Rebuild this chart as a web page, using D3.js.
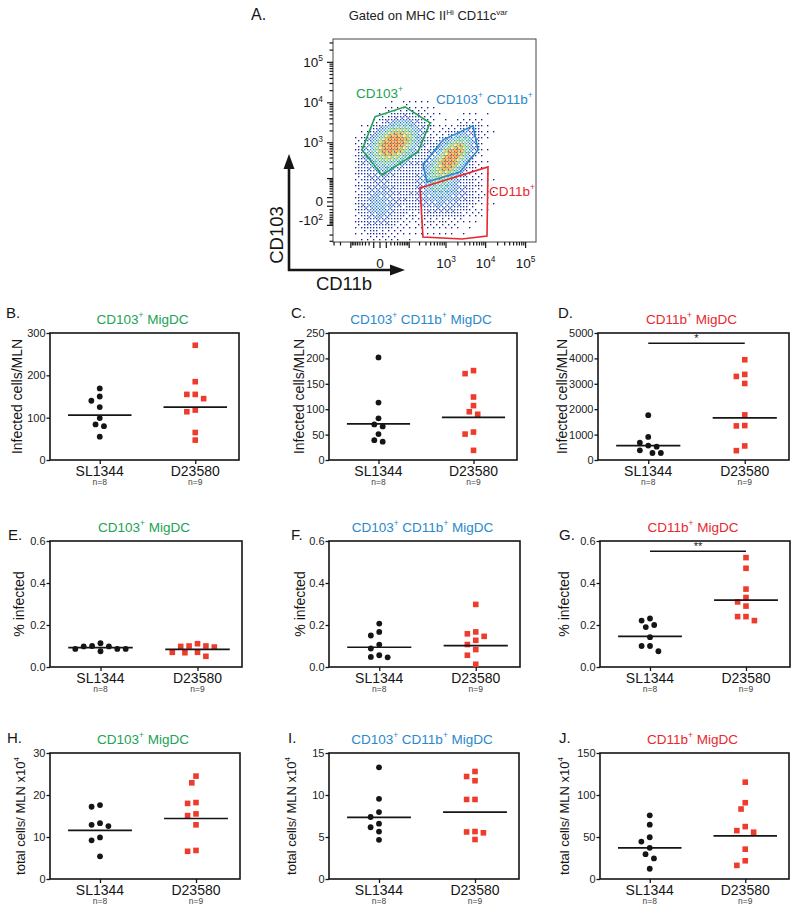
<!DOCTYPE html>
<html><head><meta charset="utf-8">
<script src="https://cdn.jsdelivr.net/npm/d3@7"></script>
<style>body{margin:0;background:#fff}</style>
</head><body><svg id="c" width="800" height="913"></svg>
<script>
// ================= DATA =================
const categories = ["SL1344", "D23580"];
const groupSizes = ["n=8", "n=9"];

const B_SL1344 = [169, 150, 140, 125, 99, 84, 80, 55];
const B_D23580 = [271, 185, 155, 155, 145, 118, 114, 65, 47];
const C_SL1344 = [202, 113, 82, 70, 66, 51, 39, 36];
const C_D23580 = [176, 170, 124, 107, 95, 90, 55, 51, 19];
const D_SL1344 = [1763, 908, 684, 566, 526, 382, 276, 276];
const D_D23580 = [3947, 3370, 3290, 3013, 1776, 1355, 1342, 553, 368];
const E_SL1344 = [0.113, 0.100, 0.098, 0.098, 0.086, 0.086, 0.086, 0.075];
const E_D23580 = [0.111, 0.100, 0.100, 0.098, 0.095, 0.070, 0.070, 0.068, 0.051];
const F_SL1344 = [0.207, 0.167, 0.150, 0.107, 0.088, 0.056, 0.048, 0.046];
const F_D23580 = [0.298, 0.167, 0.158, 0.146, 0.127, 0.107, 0.083, 0.056, 0.013];
const G_SL1344 = [0.231, 0.221, 0.200, 0.190, 0.142, 0.100, 0.100, 0.075];
const G_D23580 = [0.521, 0.470, 0.371, 0.331, 0.310, 0.290, 0.240, 0.240, 0.221];
const H_SL1344 = [17.6, 17.2, 13.3, 12.9, 12.6, 9.9, 9.2, 5.4];
const H_D23580 = [24.5, 22.9, 18.2, 18.0, 15.5, 15.1, 12.9, 6.8, 6.6];
const I_SL1344 = [13.3, 9.55, 7.97, 7.38, 6.59, 6.16, 5.65, 4.66];
const I_D23580 = [12.8, 12.2, 11.7, 9.47, 9.47, 5.65, 5.6, 5.5, 4.7];
const J_SL1344 = [75.8, 64.7, 49.7, 44.6, 37.1, 29.6, 24.5, 12.2];
const J_D23580 = [115.3, 90.8, 83.3, 62.4, 57.6, 55.7, 35.5, 21.7, 16.2];

// horizontal line (central value) per group, as drawn
const B_lines = [106, 125];
const C_lines = [71, 84];
const D_lines = [566, 1658];
const E_lines = [0.092, 0.084];
const F_lines = [0.094, 0.102];
const G_lines = [0.146, 0.318];
const H_lines = [11.6, 14.4];
const I_lines = [7.34, 7.97];
const J_lines = [37.1, 51.3];

const B_ticks = [0, 100, 200, 300];
const C_ticks = [0, 50, 100, 150, 200, 250];
const D_ticks = [0, 1000, 2000, 3000, 4000, 5000];
const pct_ticks = [0, 0.2, 0.4, 0.6];
const H_ticks = [0, 10, 20, 30];
const I_ticks = [0, 5, 10, 15];
const J_ticks = [0, 50, 100, 150];

const D_sig = {value: 4600, label: "*"};
const G_sig = {value: 0.551, label: "**"};

const titleGreen = [["CD103", 0], ["+", 1], [" MigDC", 0]];
const titleBlue = [["CD103", 0], ["+", 1], [" CD11b", 0], ["+", 1], [" MigDC", 0]];
const titleRed = [["CD11b", 0], ["+", 1], [" MigDC", 0]];
const yLabelInfected = [["Infected cells/MLN", 0]];
const yLabelPct = [["% infected", 0]];
const yLabelTotal = [["total cells/ MLN x10", 0], ["4", 1]];

// Flow cytometry panel (A)
const flowTitle = [["Gated on MHC II", 0], ["Hi", 1], [" CD11c", 0], ["var", 1]];
const flowXLabels = [{v: 0, t: [["0", 0]]}, {v: 1e3, t: [["10", 0], ["3", 1]]}, {v: 1e4, t: [["10", 0], ["4", 1]]}, {v: 1e5, t: [["10", 0], ["5", 1]]}];
const flowYLabels = [{v: 1e5, t: [["10", 0], ["5", 1]]}, {v: 1e4, t: [["10", 0], ["4", 1]]}, {v: 1e3, t: [["10", 0], ["3", 1]]}, {v: 0, t: [["0", 0]]}, {v: -100, t: [["-10", 0], ["2", 1]]}];
// populations: centre (CD11b, CD103), spread (decades), tilt (deg), relative weight
const flowClusters = [
  {cd11b: 25, cd103: 990, su: 0.52, sv: 0.34, angle: 38, weight: 1.0},
  {cd11b: 1420, cd103: 485, su: 0.5, sv: 0.25, angle: 50, weight: 0.95},
  {cd11b: -3, cd103: -7, su: 0.36, sv: 0.5, angle: 0, weight: 0.42},
  {cd11b: 940, cd103: 18, su: 0.55, sv: 0.42, angle: 10, weight: 0.36},
  {cd11b: 200, cd103: 90, su: 0.7, sv: 0.65, angle: 0, weight: 0.13}
];
// gates (CD11b, CD103)
const gateCD103 = [[-7.6, 4486], [74, 7945], [384, 3179], [181, 582], [2.8, 131], [-41.6, 656]];
const gateDouble = [[249, 259], [838, 1187], [4816, 2675], [6430, 656], [2267, 162], [320, 76]];
const gateCD11b = [[206, 44], [11454, 227], [10813, -213], [2546, -259], [249, -227]];

// ================= RENDER =================
const FONT = '"Liberation Sans", Arial, Helvetica, sans-serif';
const GREEN = "#21a254", BLUE = "#2a88cc", RED = "#e8272e", SQ = "#ef3b2c", INK = "#151515";
const svg = d3.select("#c").attr("font-family", FONT);
svg.append("rect").attr("width", 800).attr("height", 913).attr("fill", "#fff");

function rich(textSel, segs, size) {
  let shifted = false;
  segs.forEach(([t, sup]) => {
    const ts = textSel.append("tspan").text(t);
    if (sup) {
      ts.attr("font-size", size * 0.62);
      if (!shifted) { ts.attr("dy", -size * 0.42); shifted = true; }
    } else {
      ts.attr("font-size", size);
      if (shifted) { ts.attr("dy", size * 0.42); shifted = false; }
    }
  });
  return textSel;
}

function dodge(values, yScale, cx, minDist, step) {
  const pts = values.map(v => ({v, py: yScale(v)})).sort((a, b) => a.py - b.py);
  const placed = [];
  for (const p of pts) {
    for (let k = 0; k < 60; k++) {
      const off = (k % 2 === 1 ? -1 : 1) * Math.ceil(k / 2) * step;
      if (placed.every(q => Math.hypot(q.px - (cx + off), q.py - p.py) >= minDist)) { p.px = cx + off; break; }
    }
    placed.push(p);
  }
  return placed;
}

function dotPanel(cfg) {
  const [x0, y0, x1, y1] = cfg.box;
  const w = x1 - x0;
  const g = svg.append("g");
  const y = d3.scaleLinear().domain([0, cfg.ticks[cfg.ticks.length - 1]]).range([y1, y0]);
  const x = d3.scalePoint().domain(categories).range([x0 + 2, x1 + 4]).padding(0.5);

  // letter + title
  g.append("text").attr("x", cfg.letter[0]).attr("y", cfg.letter[1]).attr("font-size", 15).attr("fill", INK).text(cfg.id + ".");
  rich(g.append("text").attr("x", (x0 + x1) / 2 - 2).attr("y", y0 - 9).attr("text-anchor", "middle").attr("fill", cfg.color), cfg.title, 13.5);

  // y axis
  const ya = g.append("g").attr("transform", `translate(${x0},0)`)
    .call(d3.axisLeft(y).tickValues(cfg.ticks).tickSize(3.5).tickPadding(1).tickFormat(cfg.fmt || d3.format("d")));
  ya.select(".domain").remove();
  ya.selectAll("line").attr("stroke", INK).attr("stroke-width", 1.3);
  ya.selectAll("text").attr("font-size", 11).attr("font-family", FONT).attr("fill", "#222");

  // x axis
  const xa = g.append("g").attr("transform", `translate(0,${y1})`)
    .call(d3.axisBottom(x).tickSize(4).tickFormat(""));
  xa.select(".domain").remove();
  xa.selectAll("line").attr("stroke", INK).attr("stroke-width", 1.3);
  categories.forEach((c, i) => {
    g.append("text").attr("x", x(c)).attr("y", y1 + 15.5).attr("text-anchor", "middle").attr("font-size", 14).attr("fill", INK).text(c);
    g.append("text").attr("x", x(c)).attr("y", y1 + 25).attr("text-anchor", "middle").attr("font-size", 8.5).attr("fill", "#444").text(groupSizes[i]);
  });

  // y label
  const ly = (y0 + y1) / 2;
  const lsize = cfg.lsize || 14;
  rich(g.append("text").attr("transform", `translate(${cfg.ylab + lsize * 0.3},${ly}) rotate(-90)`).attr("text-anchor", "middle").attr("fill", INK), cfg.ylabel, lsize);

  // frame
  g.append("rect").attr("x", x0).attr("y", y0).attr("width", w).attr("height", y1 - y0)
    .attr("fill", "none").attr("stroke", INK).attr("stroke-width", 1.6);

  // points
  const sl = dodge(cfg.sl, y, x(categories[0]), 7.4, 4.2);
  g.selectAll(null).data(sl).join("circle").attr("cx", d => d.px).attr("cy", d => d.py).attr("r", 2.9).attr("fill", INK);
  const dd = dodge(cfg.d, y, x(categories[1]), 7.4, 4.2);
  const s = 5.6;
  g.selectAll(null).data(dd).join("rect").attr("x", d => d.px - s / 2).attr("y", d => d.py - s / 2).attr("width", s).attr("height", s).attr("fill", SQ);

  // central lines
  const hw = w * 0.168;
  cfg.lines.forEach((v, i) => {
    g.append("line").attr("x1", x(categories[i]) - hw).attr("x2", x(categories[i]) + hw)
      .attr("y1", y(v)).attr("y2", y(v)).attr("stroke", INK).attr("stroke-width", 1.7);
  });

  // significance
  if (cfg.sig) {
    g.append("line").attr("x1", x(categories[0])).attr("x2", x(categories[1]))
      .attr("y1", y(cfg.sig.value)).attr("y2", y(cfg.sig.value)).attr("stroke", INK).attr("stroke-width", 1.5);
    g.append("text").attr("x", (x(categories[0]) + x(categories[1])) / 2).attr("y", y(cfg.sig.value) - 1)
      .attr("text-anchor", "middle").attr("font-size", 11).attr("fill", INK).text(cfg.sig.label);
  }
}

const pfmt = d3.format(".1f");
dotPanel({id: "B", box: [50, 333, 239, 460], letter: [6, 318], ylab: 18, title: titleGreen, color: GREEN, ylabel: yLabelInfected, ticks: B_ticks, sl: B_SL1344, d: B_D23580, lines: B_lines});
dotPanel({id: "C", box: [329, 333, 517, 460], letter: [291, 318], ylab: 299.5, title: titleBlue, color: BLUE, ylabel: yLabelInfected, ticks: C_ticks, sl: C_SL1344, d: C_D23580, lines: C_lines});
dotPanel({id: "D", box: [598, 333, 789, 460], letter: [558, 318], ylab: 563, title: titleRed, color: RED, ylabel: yLabelInfected, ticks: D_ticks, sl: D_SL1344, d: D_D23580, lines: D_lines, sig: D_sig});
dotPanel({id: "E", box: [50, 541, 242, 667], letter: [8, 540], ylab: 20, title: titleGreen, color: GREEN, ylabel: yLabelPct, ticks: pct_ticks, fmt: pfmt, sl: E_SL1344, d: E_D23580, lines: E_lines});
dotPanel({id: "F", box: [329, 541, 520, 667], letter: [291, 540], ylab: 301, title: titleBlue, color: BLUE, ylabel: yLabelPct, ticks: pct_ticks, fmt: pfmt, sl: F_SL1344, d: F_D23580, lines: F_lines});
dotPanel({id: "G", box: [600, 541, 790, 667], letter: [559, 540], ylab: 565, title: titleRed, color: RED, ylabel: yLabelPct, ticks: pct_ticks, fmt: pfmt, sl: G_SL1344, d: G_D23580, lines: G_lines, sig: G_sig});
dotPanel({id: "H", box: [50, 753, 240, 879], letter: [7, 743], ylab: 21, lsize: 13, title: titleGreen, color: GREEN, ylabel: yLabelTotal, ticks: H_ticks, sl: H_SL1344, d: H_D23580, lines: H_lines});
dotPanel({id: "I", box: [329, 753, 519, 879], letter: [288, 743], ylab: 292, lsize: 13, title: titleBlue, color: BLUE, ylabel: yLabelTotal, ticks: I_ticks, sl: I_SL1344, d: I_D23580, lines: I_lines});
dotPanel({id: "J", box: [600, 753, 789, 879], letter: [559, 743], ylab: 565, lsize: 13, title: titleRed, color: RED, ylabel: yLabelTotal, ticks: J_ticks, sl: J_SL1344, d: J_D23580, lines: J_lines});

// ---------- Panel A : flow plot ----------
(function flow() {
  const g = svg.append("g");
  const fx = d3.scaleSymlog().constant(22.9).domain([-320, 182000]).range([333, 536]);
  const fy = d3.scaleSymlog().constant(36).domain([-314, 376000]).range([242, 39]);
  const [bx0, bx1] = fx.range(), [by1, by0] = fy.range();

  g.append("text").attr("x", 251).attr("y", 20).attr("font-size", 16).attr("fill", INK).text("A.");
  rich(g.append("text").attr("x", 428).attr("y", 20).attr("text-anchor", "middle").attr("fill", "#222"), flowTitle, 13);

  // density of events (ordered dithering of the population mixture)
  const decX = fx(1e4) - fx(1e3), decY = fy(1e3) - fy(1e4);
  const dec = (decX + decY) / 2;
  const cl = flowClusters.map(c => ({px: fx(c.cd11b), py: fy(c.cd103), su: c.su * dec, sv: c.sv * dec, a: c.angle * Math.PI / 180, w: c.weight}));
  const b4 = [[0, 8, 2, 10], [12, 4, 14, 6], [3, 11, 1, 9], [15, 7, 13, 5]];
  const bayer8 = (r, c) => 4 * b4[r % 4][c % 4] + [[0, 2], [3, 1]][(r >> 2) & 1][(c >> 2) & 1];
  const shade = [[9, 2, 14, 5], [4, 12, 0, 11], [15, 7, 10, 3], [1, 13, 6, 8]];
  const col = d3.scaleLinear().domain([0, 0.18, 0.34, 0.5, 0.66, 0.84, 1])
    .range(["#17188a", "#1f3cb2", "#2f98d6", "#47c890", "#d8e236", "#f59a26", "#e3261c"]).clamp(true);
  const cells = [];
  const stepPx = 1.5;
  let i = 0;
  for (let py = by0 + 62; py < by1 - 0.5; py += stepPx, i++) {
    let j = 0;
    for (let px = bx0 + 22; px < bx0 + 168; px += stepPx, j++) {
      let d = 0;
      for (const c of cl) {
        const dx = px - c.px, dy = py - c.py;
        const u = dx * Math.cos(c.a) - dy * Math.sin(c.a);
        const v = dx * Math.sin(c.a) + dy * Math.cos(c.a);
        d += c.w * Math.exp(-0.5 * (u * u / (c.su * c.su) + v * v / (c.sv * c.sv)));
      }
      if (d < 0.02) continue;
      const p = Math.min(1, d * 1.15);
      if (p > (bayer8(i, j) + 0.5) / 64) {
        const f = 0.5 + 0.75 * (shade[(i + 1) % 4][(j + 2) % 4] / 15);
        cells.push({px, py, t: d * f});
      }
    }
  }
  g.append("g").selectAll("rect").data(cells).join("rect")
    .attr("x", d => d.px).attr("y", d => d.py).attr("width", 1.35).attr("height", 1.35)
    .attr("fill", d => col(d.t));

  // frame
  g.append("rect").attr("x", bx0).attr("y", by0).attr("width", bx1 - bx0).attr("height", by1 - by0)
    .attr("fill", "none").attr("stroke", "#444").attr("stroke-width", 1);

  // ticks
  function tickVals(min, max) {
    const out = [{v: 0, major: true}];
    for (let e = 1; e <= 5; e++) for (let k = 1; k <= 9; k++) {
      const v = k * Math.pow(10, e);
      if (v <= max) out.push({v, major: k === 1});
      if (-v >= min) out.push({v: -v, major: k === 1});
    }
    return out;
  }
  const yt = tickVals(fy.domain()[0], fy.domain()[1]);
  g.append("g").selectAll("line").data(yt).join("line")
    .attr("x1", bx0).attr("x2", d => bx0 - (d.major ? 6 : 3.5))
    .attr("y1", d => fy(d.v)).attr("y2", d => fy(d.v)).attr("stroke", INK).attr("stroke-width", 1.2);
  const xt = tickVals(fx.domain()[0], fx.domain()[1]);
  g.append("g").selectAll("line").data(xt).join("line")
    .attr("y1", by1).attr("y2", d => by1 + (d.major ? 6 : 3.5))
    .attr("x1", d => fx(d.v)).attr("x2", d => fx(d.v)).attr("stroke", INK).attr("stroke-width", 1.2);

  flowYLabels.forEach(l => {
    rich(g.append("text").attr("x", 323).attr("y", fy(l.v) + (l.v < 0 ? 0 : 4.5)).attr("text-anchor", "end").attr("fill", INK), l.t, 13.5);
  });
  flowXLabels.forEach(l => {
    rich(g.append("text").attr("x", fx(l.v)).attr("y", 268).attr("text-anchor", "middle").attr("fill", INK), l.t, 13.5);
  });

  // gates
  const gline = d3.line().x(d => fx(d[0])).y(d => fy(d[1])).curve(d3.curveLinearClosed);
  [[gateCD103, GREEN], [gateDouble, BLUE], [gateCD11b, RED]].forEach(([pts, c]) => {
    g.append("path").attr("d", gline(pts)).attr("fill", "none").attr("stroke", c).attr("stroke-width", 1.6);
  });
  rich(g.append("text").attr("x", 356).attr("y", 98).attr("fill", GREEN), [["CD103", 0], ["+", 1]], 13.5);
  rich(g.append("text").attr("x", 436).attr("y", 104).attr("fill", BLUE), [["CD103", 0], ["+", 1], [" CD11b", 0], ["+", 1]], 13.5);
  rich(g.append("text").attr("x", 489).attr("y", 196).attr("fill", RED), [["CD11b", 0], ["+", 1]], 13.5);

  // arrows
  g.append("line").attr("x1", 289).attr("y1", 271).attr("x2", 289).attr("y2", 166).attr("stroke", INK).attr("stroke-width", 2.6);
  g.append("path").attr("d", "M289,154 L283.5,169 L294.5,169 Z").attr("fill", INK);
  g.append("line").attr("x1", 288).attr("y1", 270).attr("x2", 392).attr("y2", 270).attr("stroke", INK).attr("stroke-width", 2.6);
  g.append("path").attr("d", "M405,270 L390,264.5 L390,275.5 Z").attr("fill", INK);
  g.append("text").attr("transform", "translate(283,235) rotate(-90)").attr("text-anchor", "middle").attr("font-size", 18.5).attr("fill", INK).text("CD103");
  g.append("text").attr("x", 344).attr("y", 290).attr("text-anchor", "middle").attr("font-size", 18.5).attr("fill", INK).text("CD11b");
})();
</script>
</body></html>
